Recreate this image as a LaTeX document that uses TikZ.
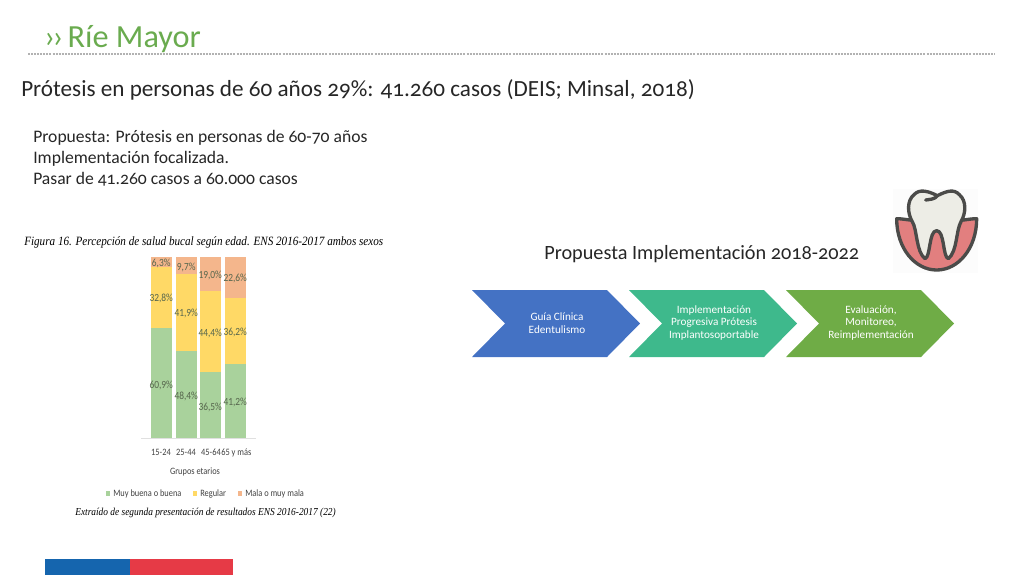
\documentclass[tikz,border=0pt]{standalone}
\usepackage{fontspec}
\setmainfont[Numbers=OldStyle]{Carlito}
\newfontfamily\capfont[FakeStretch=0.88]{Liberation Serif}
\newfontfamily\chartfont[FakeStretch=0.86]{Carlito}
\usetikzlibrary{positioning}
\definecolor{titlegreen}{HTML}{6AAB4F}
\definecolor{barGreen}{HTML}{A9D29C}
\definecolor{barYellow}{HTML}{FFD966}
\definecolor{barOrange}{HTML}{F4B68C}
\definecolor{barText}{HTML}{56664D}
\definecolor{chevBlue}{HTML}{4472C4}
\definecolor{chevTeal}{HTML}{3EB98C}
\definecolor{chevGreen}{HTML}{6FAC46}
\definecolor{toothLine}{HTML}{4B4B49}
\definecolor{toothFill}{HTML}{EDEDE6}
\definecolor{gumFill}{HTML}{E27F7F}
\definecolor{stripBlue}{HTML}{1565AE}
\definecolor{stripRed}{HTML}{E63A46}
\tikzset{
        txt/.style={anchor=west, inner sep=0pt, text=black!85}, % Plain slide text
        pct/.style={inner sep=0pt, text=barText, font=\chartfont\fontsize{8.2}{9}\selectfont},
        axislab/.style={inner sep=0pt, text=black!75, font=\chartfont\fontsize{7.3}{8}\selectfont},
        chevlab/.style={align=center, inner sep=0pt, text=white, font=\fontsize{8.4}{9.6}\selectfont}
        }
\begin{document}
\begin{tikzpicture}[x=0.75pt, y=-0.75pt]
    \useasboundingbox (0,0) rectangle (1024,576);

    % header
    \node[txt, text=titlegreen, font=\fontsize{24.2}{30}\selectfont] (title) at (44,39) {›\kern-2pt›\kern-2.3pt{} Ríe Mayor};
    \draw[gray!60, line width=1.6pt, dash pattern=on 1.5pt off 0.8pt] (28,54) -- (995,54);
    \node[txt, font=\fontsize{17.37}{21}\selectfont] (lead) at (21,90) {Prótesis en personas de 60 años 29\%: 41.260 casos (DEIS; Minsal, 2018)};
    \node[txt, font=\fontsize{13.2}{15.6}\selectfont, align=left] (prop) at (33,158) {Propuesta: Prótesis en personas de 60-70 años\\Implementación focalizada.\\Pasar de 41.260 casos a 60.000 casos};

    % chart
    \node[txt, text=black, font=\capfont\itshape\fontsize{9.5}{11}\selectfont] (figcap) at (24,242.5) {Figura 16. Percepción de salud bucal según edad. ENS 2016-2017 ambos sexos};
    \draw[black!12] (141,438.5) -- (256,438.5);
    \foreach \i/\xa/\ya/\yb/\la/\lya/\lb/\lyb/\lc/\lyc in {
        1/151/267/328/{6,3\%}/263/{32,8\%}/298/{60,9\%}/385,
        2/176/274/351/{9,7\%}/267/{41,9\%}/313/{48,4\%}/396,
        3/200/291/372/{19,0\%}/275/{44,4\%}/333/{36,5\%}/407,
        4/225/298/364/{22,6\%}/278/{36,2\%}/332/{41,2\%}/402} {
        \fill[barOrange] (\xa,257) rectangle (\xa+20.5,\ya);
        \fill[barYellow] (\xa,\ya) rectangle (\xa+20.5,\yb);
        \fill[barGreen] (\xa,\yb) rectangle (\xa+20.5,438);
        \node[pct] (top\i) at (\xa+10.2,\lya) {\la};
        \node[pct] (mid\i) at (\xa+10.2,\lyb) {\lb};
        \node[pct] (low\i) at (\xa+10.2,\lyc) {\lc};
    }
    \node[axislab] (age1) at (161,452.5) {15-24};
    \node[axislab] (age2) at (186,452.5) {25-44};
    \node[axislab] (age3) at (211,452.5) {45-64};
    \node[axislab, anchor=west] (age4) at (221,452.5) {65 y más};
    \node[axislab] (axis) at (195,471.5) {Grupos etarios};
    \fill[barGreen] (106,491) rectangle (110,496);
    \node[axislab, anchor=west] (leg1) at (113,494) {Muy buena o buena};
    \fill[barYellow] (193,491) rectangle (197,496);
    \node[axislab, anchor=west] (leg2) at (200,494) {Regular};
    \fill[barOrange] (238,491) rectangle (242,496);
    \node[axislab, anchor=west] (leg3) at (245,494) {Mala o muy mala};
    \node[txt, text=black, font=\capfont\itshape\fontsize{8}{9}\selectfont] (srccap) at (75,513) {Extraído de segunda presentación de resultados ENS 2016-2017 (22)};

    % chevrons
    \node[txt, font=\fontsize{15.2}{18}\selectfont] (plan) at (544,254) {Propuesta Implementación 2018-2022};
    \foreach \x/\col/\name/\lab in {
        472/chevBlue/guide/{Guía Clínica\\Edentulismo},
        629/chevTeal/rollout/{Implementación\\Progresiva Prótesis\\Implantosoportable},
        786/chevGreen/review/{Evaluación,\\Monitoreo,\\Reimplementación}} {
        \fill[\col] (\x,290) -- (\x+135,290) -- (\x+168,323.5) -- (\x+135,357) -- (\x,357) -- (\x+33,323.5) -- cycle;
        \node[chevlab] (\name) at (\x+85,323) {\lab};
    }

    % tooth icon
    \begin{scope}[shift={(880,180)}, x=0.25pt, y=-0.25pt, line width=2.5pt, draw=toothLine, line join=round]
        \fill[black!1] (40,28) rectangle (295,278);
        \filldraw[fill=gumFill] (50,116) .. controls (50,205) and (105,270) .. (170,270)
            .. controls (235,270) and (290,205) .. (290,116)
            .. controls (265,116) and (240,125) .. (170,125)
            .. controls (100,125) and (75,116) .. (50,116) -- cycle;
        \filldraw[fill=toothFill] (172,47) .. controls (145,33) and (118,26) .. (102,44)
            .. controls (80,62) and (82,100) .. (97,125)
            .. controls (112,150) and (108,215) .. (135,236)
            .. controls (152,232) and (146,152) .. (170,152)
            .. controls (194,152) and (188,232) .. (205,236)
            .. controls (232,215) and (228,150) .. (243,125)
            .. controls (258,100) and (260,62) .. (238,44)
            .. controls (222,26) and (200,33) .. (172,47) -- cycle;
        \draw[line cap=round] (172,47) .. controls (165,58) and (150,58) .. (137,60);
    \end{scope}

    % footer strip
    \fill[stripBlue] (45,559) rectangle (130,575);
    \fill[stripRed] (130,559) rectangle (233,575);
\end{tikzpicture}
\end{document}
